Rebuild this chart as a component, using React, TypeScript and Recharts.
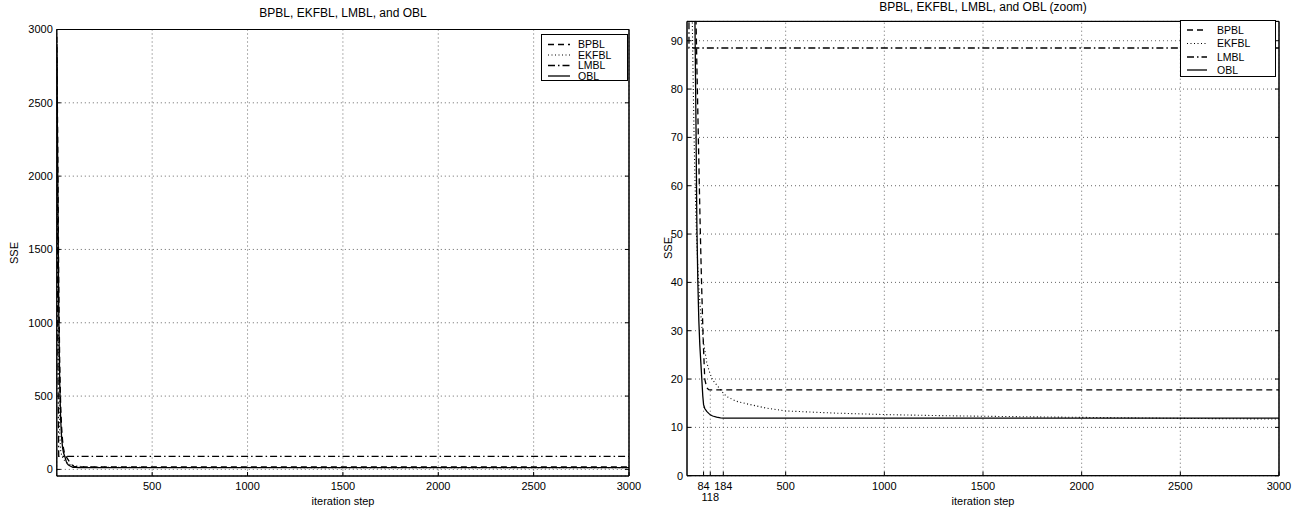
import React from 'react';
import { LineChart, Line, XAxis, YAxis, CartesianGrid, ReferenceLine, ReferenceArea } from 'recharts';

const FONT = '"Liberation Sans", Arial, Helvetica, sans-serif';

// iteration steps at which values were read
const steps = [0, 5, 10, 15, 20, 25, 30, 35, 40, 45, 50, 55, 60, 65, 70, 75, 80, 84, 90, 100, 110, 118, 130, 150, 170, 184, 200, 250, 300, 400, 500, 750, 1000, 1250, 1500, 1750, 2000, 2500, 3000];

const bpbl = [2950, 2200, 1300, 750, 450, 290, 200, 145, 112, 96, 85, 75, 65, 55, 46, 38, 31, 26, 20, 18.2, 17.8, 17.75, 17.75, 17.75, 17.75, 17.75, 17.75, 17.75, 17.75, 17.75, 17.75, 17.75, 17.75, 17.75, 17.75, 17.75, 17.75, 17.75, 17.75];
const ekfbl = [2900, 1700, 700, 260, 130, 100, 85, 72, 62, 54, 48, 43, 39, 36, 33.5, 31, 29, 27.5, 26, 23.5, 22, 21, 19.8, 18.8, 17.8, 17.1, 16.4, 15.4, 14.9, 14.0, 13.4, 12.95, 12.65, 12.45, 12.3, 12.18, 12.07, 11.86, 11.72];
const lmbl = [2800, 900, 88.5, 88.5, 88.5, 88.5, 88.5, 88.5, 88.5, 88.5, 88.5, 88.5, 88.5, 88.5, 88.5, 88.5, 88.5, 88.5, 88.5, 88.5, 88.5, 88.5, 88.5, 88.5, 88.5, 88.5, 88.5, 88.5, 88.5, 88.5, 88.5, 88.5, 88.5, 88.5, 88.5, 88.5, 88.5, 88.5, 88.5];
const obl = [2900, 2000, 1100, 600, 350, 220, 150, 115, 95, 75, 52, 40, 32, 27, 23.5, 20, 16.5, 14.7, 13.9, 13.3, 12.9, 12.6, 12.35, 12.1, 11.97, 11.92, 11.92, 11.92, 11.92, 11.92, 11.92, 11.92, 11.92, 11.92, 11.92, 11.92, 11.92, 11.92, 11.92];

const seriesNames = ['BPBL', 'EKFBL', 'LMBL', 'OBL'];
const seriesDash = ['6 4', '1 2.5', '7 3 1.5 3', undefined];
const seriesWidth = [1.3, 1.1, 1.3, 1.3];

const xTicksLeft = [500, 1000, 1500, 2000, 2500, 3000];
const yTicksLeft = [0, 500, 1000, 1500, 2000, 2500, 3000];
const yDomainLeft = [-45, 3000];
const xTicksRight = [84, 118, 184, 500, 1000, 1500, 2000, 2500, 3000];
const xGridRight = [500, 1000, 1500, 2000, 2500, 3000];
const yTicksRight = [0, 10, 20, 30, 40, 50, 60, 70, 80, 90];
const yDomainRight = [0, 94];
const xDomain = [0, 3000];
const markerSteps = [84, 118, 184];
const markerLevels = [14.7, 17.8, 17.1];

const rows = steps.map((s, i) => ({
  step: s,
  BPBL: bpbl[i],
  EKFBL: ekfbl[i],
  LMBL: lmbl[i],
  OBL: obl[i],
}));

const GRID_STROKE = '#666';
const GRID_DASH = '1 3';

const NoTick = () => null;

const RightXTick = (props: any) => {
  const { x, y, payload } = props;
  const second = payload.value === 118;
  return (
    <text x={x} y={y + (second ? 19 : 8)} textAnchor="middle" fontSize={11} fill="#000" fontFamily={FONT}>
      {payload.value}
    </text>
  );
};

const tickStyle = { fontSize: 11, fill: '#000', fontFamily: FONT };

function seriesLines() {
  return seriesNames.map((n, i) => (
    <Line
      key={n}
      type="linear"
      dataKey={n}
      stroke="#000"
      strokeWidth={seriesWidth[i]}
      strokeDasharray={seriesDash[i]}
      dot={false}
      activeDot={false}
      isAnimationActive={false}
    />
  ));
}

function Legend(p: { left: number; top: number; width: number; height: number; rows: number[]; x1: number; x2: number; tx: number }) {
  return (
    <div
      style={{
        position: 'absolute',
        left: p.left,
        top: p.top,
        width: p.width,
        height: p.height,
        background: '#fff',
        border: '1px solid #000',
        boxSizing: 'border-box',
      }}
    >
      <svg width={p.width} height={p.height} style={{ position: 'absolute', left: -1, top: -1 }}>
        {seriesNames.map((n, i) => (
          <g key={n}>
            <line x1={p.x1} x2={p.x2} y1={p.rows[i]} y2={p.rows[i]} stroke="#000" strokeWidth={seriesWidth[i]} strokeDasharray={seriesDash[i]} />
            <text x={p.tx} y={p.rows[i] + 3.8} fontSize={10.5} fontFamily={FONT} fill="#000">
              {n}
            </text>
          </g>
        ))}
      </svg>
    </div>
  );
}

const textBase: React.CSSProperties = {
  position: 'absolute',
  whiteSpace: 'nowrap',
  fontFamily: FONT,
  color: '#000',
  lineHeight: 1,
  transform: 'translate(-50%, -50%)',
};

export default function App() {
  return (
    <div style={{ position: 'absolute', left: 0, top: 0, width: 1304, height: 511, background: '#fff', overflow: 'hidden', fontFamily: FONT }}>
      {/* Left chart */}
      <div style={{ position: 'absolute', left: 0, top: 0 }}>
        <LineChart width={660} height={511} data={rows} margin={{ top: 28.5, right: 30, left: 0, bottom: 0 }}>
          <CartesianGrid stroke={GRID_STROKE} strokeDasharray={GRID_DASH} />
          <XAxis
            dataKey="step"
            type="number"
            domain={xDomain}
            ticks={xTicksLeft}
            allowDataOverflow
            height={35}
            tickSize={-4}
            tickMargin={10}
            stroke="#000"
            tick={tickStyle}
          />
          <XAxis xAxisId="top" orientation="top" type="number" domain={xDomain} ticks={xTicksLeft} allowDataOverflow height={1} tickSize={-4} stroke="#000" tick={NoTick} />
          <YAxis
            type="number"
            domain={yDomainLeft}
            ticks={yTicksLeft}
            allowDataOverflow
            width={56.8}
            tickSize={-4}
            tickMargin={8}
            stroke="#000"
            tick={tickStyle}
          />
          <YAxis yAxisId="right" orientation="right" type="number" domain={yDomainLeft} ticks={yTicksLeft} allowDataOverflow width={1} tickSize={-4} stroke="#000" tick={NoTick} />
          <ReferenceArea x1={xDomain[0]} x2={xDomain[1]} y1={yDomainLeft[0]} y2={yDomainLeft[1]} fill="none" stroke="#000" strokeWidth={1} />
          {seriesLines()}
        </LineChart>
      </div>

      {/* Right chart */}
      <div style={{ position: 'absolute', left: 644, top: 0 }}>
        <LineChart width={660} height={511} data={rows} margin={{ top: 20.4, right: 24, left: 0, bottom: 0 }}>
          <CartesianGrid stroke={GRID_STROKE} strokeDasharray={GRID_DASH} vertical={false} />
          {xGridRight.map((v) => (
            <ReferenceLine key={'g' + v} x={v} stroke={GRID_STROKE} strokeDasharray={GRID_DASH} strokeWidth={1} />
          ))}
          {markerSteps.map((v, i) => (
            <ReferenceLine
              key={'m' + v}
              segment={[{ x: v, y: 0 }, { x: v, y: markerLevels[i] }]}
              stroke={GRID_STROKE}
              strokeDasharray={GRID_DASH}
              strokeWidth={1}
            />
          ))}
          <XAxis
            dataKey="step"
            type="number"
            domain={xDomain}
            ticks={xTicksRight}
            allowDataOverflow
            height={35.3}
            tickSize={-4}
            tickMargin={10}
            stroke="#000"
            tick={<RightXTick />}
            interval={0}
          />
          <XAxis xAxisId="top" orientation="top" type="number" domain={xDomain} ticks={xTicksRight} allowDataOverflow height={1} tickSize={-4} stroke="#000" tick={NoTick} interval={0} />
          <YAxis
            type="number"
            domain={yDomainRight}
            ticks={yTicksRight}
            allowDataOverflow
            width={43}
            tickSize={-4}
            tickMargin={8}
            stroke="#000"
            tick={tickStyle}
          />
          <YAxis yAxisId="right" orientation="right" type="number" domain={yDomainRight} ticks={yTicksRight} allowDataOverflow width={1} tickSize={-4} stroke="#000" tick={NoTick} />
          <ReferenceArea x1={xDomain[0]} x2={xDomain[1]} y1={yDomainRight[0]} y2={yDomainRight[1]} fill="none" stroke="#000" strokeWidth={1} />
          {seriesLines()}
        </LineChart>
      </div>

      {/* Titles and axis labels */}
      <div style={{ ...textBase, left: 343, top: 13, fontSize: 12 }}>BPBL, EKFBL, LMBL, and OBL</div>
      <div style={{ ...textBase, left: 983, top: 7, fontSize: 12 }}>BPBL, EKFBL, LMBL, and OBL (zoom)</div>
      <div style={{ ...textBase, left: 343, top: 501, fontSize: 11 }}>iteration step</div>
      <div style={{ ...textBase, left: 983, top: 501, fontSize: 11 }}>iteration step</div>
      <div style={{ ...textBase, left: 14, top: 253, fontSize: 11, transform: 'translate(-50%, -50%) rotate(-90deg)' }}>SSE</div>
      <div style={{ ...textBase, left: 668, top: 248, fontSize: 11, transform: 'translate(-50%, -50%) rotate(-90deg)' }}>SSE</div>

      <Legend left={541} top={34} width={87} height={47} rows={[10.5, 21, 31.5, 42]} x1={7} x2={29} tx={37} />
      <Legend left={1180} top={20} width={96} height={57} rows={[10, 23.5, 37, 50]} x1={7} x2={27} tx={37} />
    </div>
  );
}
